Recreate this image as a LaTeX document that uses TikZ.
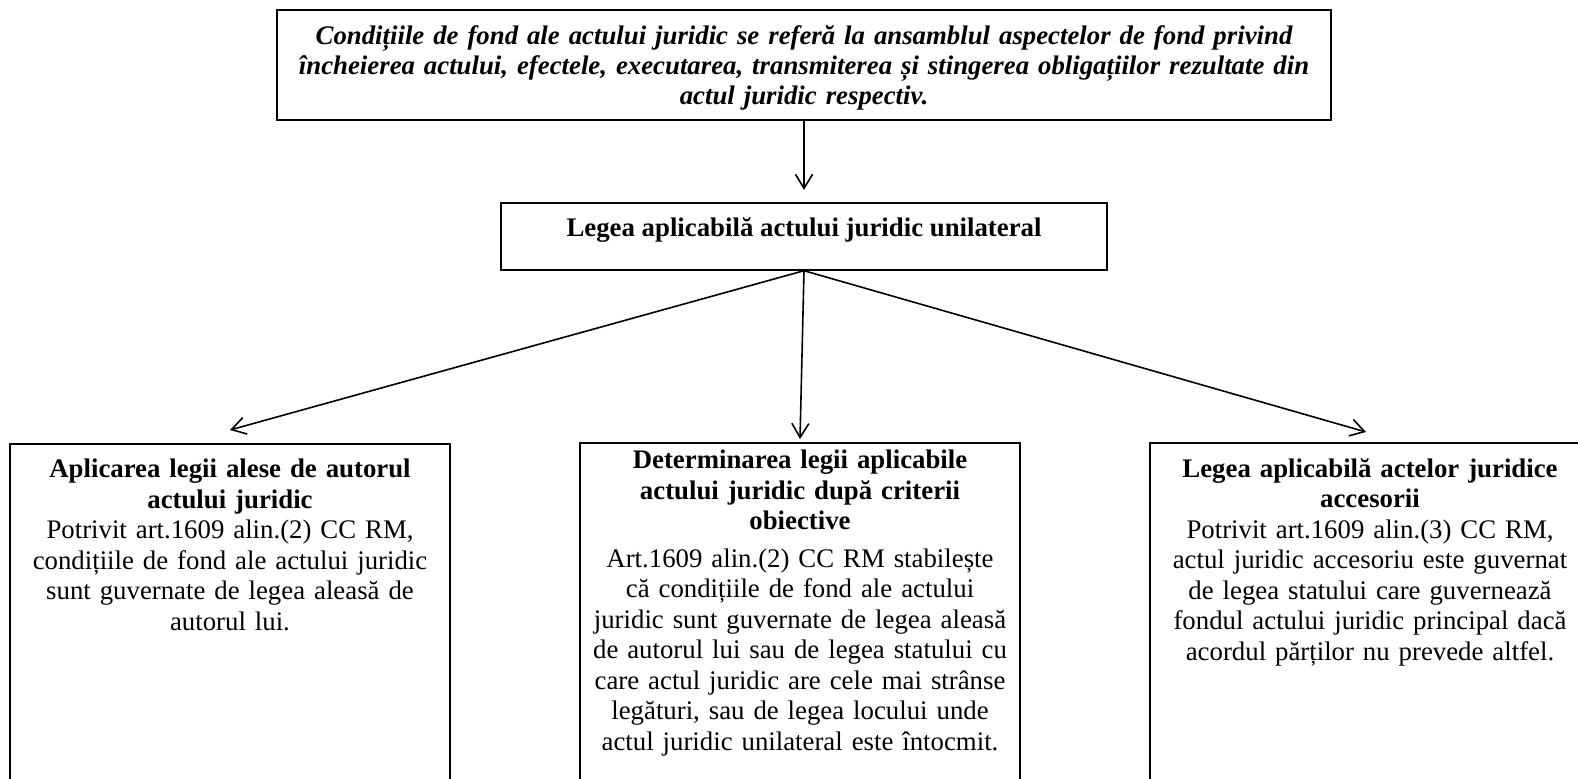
\documentclass[tikz,border=0pt]{standalone}
\usepackage{fontspec}
\setmainfont{Liberation Serif}
\usetikzlibrary{arrows.meta, positioning, calc}

\begin{document}
\begin{tikzpicture}[
    x = 0.5pt, y = -0.5pt,
    frame/.style = {draw = black, line width = 0.9pt, inner sep = 0pt},
    lead/.style  = {frame, minimum width = 527pt, minimum height = 55pt,
                    text width = 520pt, align = center,
                    font = \fontsize{13.4}{15}\selectfont\bfseries\itshape},
    law/.style   = {frame, minimum width = 303pt,
                    text height = 17pt, text depth = 16.5pt,
                    font = \fontsize{13.4}{15}\selectfont\bfseries},
    col/.style   = {frame, anchor = north,
                    minimum width = 220pt, minimum height = 190pt},
    txt/.style   = {text width = 218pt, align = center, inner sep = 0pt,
                    font = \fontsize{13.4}{15.25}\selectfont},
    arr/.style   = {-{Straight Barb[length=7pt, width=8.5pt]},
                    line width = 0.8pt},
  ]
    \useasboundingbox (0,0) rectangle (1578,779);
    \clip (0,0) rectangle (1578,779);

    %% ── Upper part ───────────────────────────────────────────────
    \node[lead] (T) at (804,65)
      {\rule{0pt}{12pt}Condițiile de fond ale actului juridic se referă la ansamblul aspectelor de fond privind\\
       încheierea actului, efectele, executarea, transmiterea și stingerea obligațiilor rezultate din\\
       actul juridic respectiv.};
    \node[law, below = 40.5pt of T] (L)
      {Legea aplicabilă actului juridic unilateral};

    %% ── Three columns (cut by the page edge) ─────────────────────
    \node[col] (B1) at (230,443) {};
    \node[col] (B2) at (800,442) {};
    \node[col] (B3) at (1370,442) {};

    \node[txt, below = 8pt of B1.north] (D1)
      {\textbf{Aplicarea legii alese de autorul\\actului juridic}\\
       Potrivit art.1609 alin.(2) CC RM,\\
       condițiile de fond ale actului juridic\\
       sunt guvernate de legea aleasă de\\
       autorul lui.};
    \node[txt, below = 4pt of B2.north] (D2)
      {\textbf{Determinarea legii aplicabile\\actului juridic după criterii\\obiective}\\[3.5pt]
       Art.1609 alin.(2) CC RM stabilește\\
       că condițiile de fond ale actului\\
       juridic sunt guvernate de legea aleasă\\
       de autorul lui sau de legea statului cu\\
       care actul juridic are cele mai strânse\\
       legături, sau de legea locului unde\\
       actul juridic unilateral este întocmit.};
    \node[txt, below = 8pt of B3.north] (D3)
      {\textbf{Legea aplicabilă actelor juridice\\accesorii}\\
       Potrivit art.1609 alin.(3) CC RM,\\
       actul juridic accesoriu este guvernat\\
       de legea statului care guvernează\\
       fondul actului juridic principal dacă\\
       acordul părților nu prevede altfel.};

    %% ── Arrow tips above the columns ─────────────────────────────
    \coordinate (P1) at ($(B1.north) + (0,-13)$);
    \coordinate (P2) at ($(B2.north) + (0,-3)$);
    \coordinate (P3) at ($(B3.north) + (-4,-10)$);

    %% ── Arrows ───────────────────────────────────────────────────
    \draw[arr, shorten >= 6pt] (T) -- (L);
    \draw[arr] (L.south) -- (P1);
    \draw[arr] (L.south) -- (P2);
    \draw[arr] (L.south) -- (P3);
  \end{tikzpicture}
\end{document}
